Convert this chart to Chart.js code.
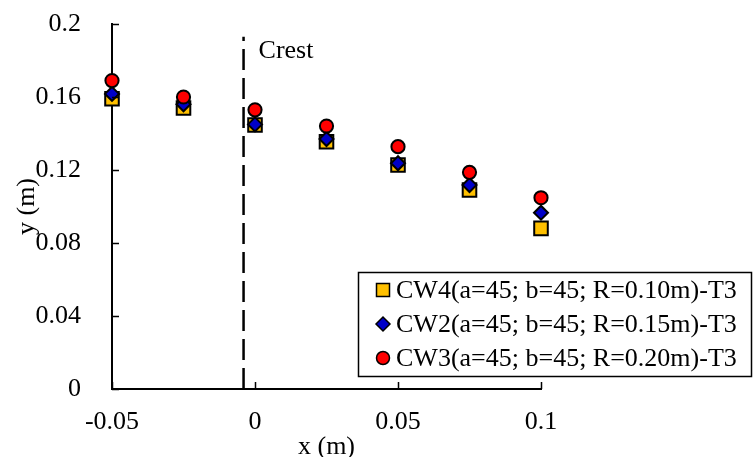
<!DOCTYPE html>
<html>
<head>
<meta charset="utf-8">
<script src="https://cdn.jsdelivr.net/npm/chart.js@4.4.1/dist/chart.umd.min.js"></script>
<style>
	html, body { margin: 0; padding: 0; background: #fff; }
	#canvas1 { display: block; }
</style>
</head>
<body>
<canvas id="canvas1" width="753" height="457"></canvas>
<script>
	// x positions along the flume (m)
	var xValues = [-0.05, -0.025, 0, 0.025, 0.05, 0.075, 0.1];

	// water surface y (m) for each test
	var cw4Values = [0.159, 0.154, 0.1447, 0.1355, 0.1227, 0.109, 0.088];
	var cw2Values = [0.1617, 0.156, 0.145, 0.137, 0.1237, 0.1118, 0.0966];
	var cw3Values = [0.169, 0.160, 0.153, 0.1441, 0.1328, 0.1187, 0.1048];

	var seriesLabels = [
		"CW4(a=45; b=45; R=0.10m)-T3",
		"CW2(a=45; b=45; R=0.15m)-T3",
		"CW3(a=45; b=45; R=0.20m)-T3"
	];

	var xTicks = [-0.05, 0, 0.05, 0.1];
	var yTicks = [0, 0.04, 0.08, 0.12, 0.16, 0.2];

	// crest position, dashed marker line
	var crestX = [-0.004, -0.004];
	var crestY = [0, 0.193];
	var crestLabel = "Crest";

	var serif = "'Liberation Serif', 'Times New Roman', serif";

	function toPoints(xs, ys) {
		var pts = [];
		for (var i = 0; i < xs.length; i++) {
			pts.push({ x: xs[i], y: ys[i] });
		}
		return pts;
	}

	function fmt(v) {
		return String(Math.round(v * 1000) / 1000);
	}

	var markers = [
		{ style: "rect", radius: 9.6, fill: "#FFC000" },
		{ style: "rectRot", radius: 7, fill: "#0000C8" },
		{ style: "circle", radius: 6.6, fill: "#FF0000" }
	];

	// ticks point into the plot, plus the crest text and the boxed legend
	var extras = {
		id: "extras",
		afterDraw: function(chart) {
			var ctx = chart.ctx;
			var xs = chart.scales.x;
			var ys = chart.scales.y;
			var area = chart.chartArea;
			ctx.save();
			ctx.strokeStyle = "#000";
			ctx.lineWidth = 1.5;
			ctx.beginPath();
			yTicks.forEach(function(v) {
				var py = Math.round(ys.getPixelForValue(v)) + 0.5;
				ctx.moveTo(area.left, py);
				ctx.lineTo(area.left + 7, py);
			});
			xTicks.forEach(function(v) {
				var px = Math.round(xs.getPixelForValue(v)) + 0.5;
				ctx.moveTo(px, area.bottom);
				ctx.lineTo(px, area.bottom - 7);
			});
			ctx.stroke();

			ctx.fillStyle = "#000";
			ctx.font = "26px " + serif;
			ctx.textBaseline = "alphabetic";
			ctx.textAlign = "left";
			ctx.fillText(crestLabel, xs.getPixelForValue(crestX[0]) + 15, 58);

			// legend
			var bx = 358.5, by = 272.5, bw = 393, bh = 104;
			ctx.fillStyle = "#fff";
			ctx.fillRect(bx, by, bw, bh);
			ctx.lineWidth = 1.5;
			ctx.strokeStyle = "#000";
			ctx.strokeRect(bx, by, bw, bh);
			ctx.textBaseline = "middle";
			for (var i = 0; i < seriesLabels.length; i++) {
				var cy = 290 + i * 34;
				var cx = 383;
				ctx.beginPath();
				if (markers[i].style === "rect") {
					ctx.rect(cx - 6.5, cy - 6.5, 13, 13);
				} else if (markers[i].style === "rectRot") {
					ctx.moveTo(cx - 7, cy);
					ctx.lineTo(cx, cy - 7);
					ctx.lineTo(cx + 7, cy);
					ctx.lineTo(cx, cy + 7);
					ctx.closePath();
				} else {
					ctx.arc(cx, cy, 6.5, 0, Math.PI * 2);
				}
				ctx.fillStyle = markers[i].fill;
				ctx.fill();
				ctx.lineWidth = 1.5;
				ctx.stroke();
				ctx.fillStyle = "#000";
				ctx.fillText(seriesLabels[i], 396, cy + 1);
			}
			ctx.restore();
		}
	};

	var datasets = [];
	[cw4Values, cw2Values, cw3Values].forEach(function(vals, i) {
		datasets.push({
			label: seriesLabels[i],
			data: toPoints(xValues, vals),
			pointStyle: markers[i].style,
			pointRadius: markers[i].radius,
			pointBackgroundColor: markers[i].fill,
			pointBorderColor: "#000",
			pointBorderWidth: 2,
			showLine: false,
			clip: false,
			order: 3 - i
		});
	});
	datasets.push({
		label: crestLabel,
		data: toPoints(crestX, crestY),
		showLine: true,
		borderColor: "#000",
		borderWidth: 2.5,
		borderDash: [21, 8],
		pointRadius: 0,
		order: 5
	});

	var ctx = document.getElementById("canvas1");
	new Chart(ctx, {
		type: "scatter",
		data: { datasets: datasets },
		plugins: [extras],
		options: {
			responsive: false,
			maintainAspectRatio: false,
			animation: false,
			events: [],
			layout: { padding: { top: 24, right: 212, bottom: 0, left: 0 } },
			plugins: {
				legend: { display: false },
				tooltip: { enabled: false }
			},
			scales: {
				x: {
					type: "linear",
					min: -0.05,
					max: 0.1,
					afterBuildTicks: function(scale) {
						scale.ticks = xTicks.map(function(v) { return { value: v }; });
					},
					afterFit: function(scale) {
						scale.height = 68;
						scale.paddingLeft = 0;
						scale.paddingRight = 0;
					},
					grid: { display: false },
					border: { display: true, color: "#000", width: 2 },
					ticks: {
						color: "#000",
						padding: 10,
						maxRotation: 0,
						font: { family: serif, size: 26 },
						callback: function(v) { return fmt(v); }
					},
					title: {
						display: true,
						text: "x (m)",
						color: "#000",
						padding: { top: 0, bottom: -3 },
						font: { family: serif, size: 26, lineHeight: 1 }
					}
				},
				y: {
					type: "linear",
					min: 0,
					max: 0.2,
					afterBuildTicks: function(scale) {
						scale.ticks = yTicks.map(function(v) { return { value: v }; });
					},
					afterFit: function(scale) {
						// keep the tick padding from pushing the plot top down
						scale.width = 112;
						scale.paddingTop = 0;
						scale.paddingBottom = 0;
					},
					grid: { display: false },
					border: { display: true, color: "#000", width: 2 },
					ticks: {
						color: "#000",
						padding: 23,
						font: { family: serif, size: 26 },
						callback: function(v) { return fmt(v); }
					},
					title: {
						display: true,
						text: "y (m)",
						color: "#000",
						padding: { top: 14, bottom: 0 },
						font: { family: serif, size: 26, lineHeight: 1 }
					}
				}
			}
		}
	});
</script>
</body>
</html>
